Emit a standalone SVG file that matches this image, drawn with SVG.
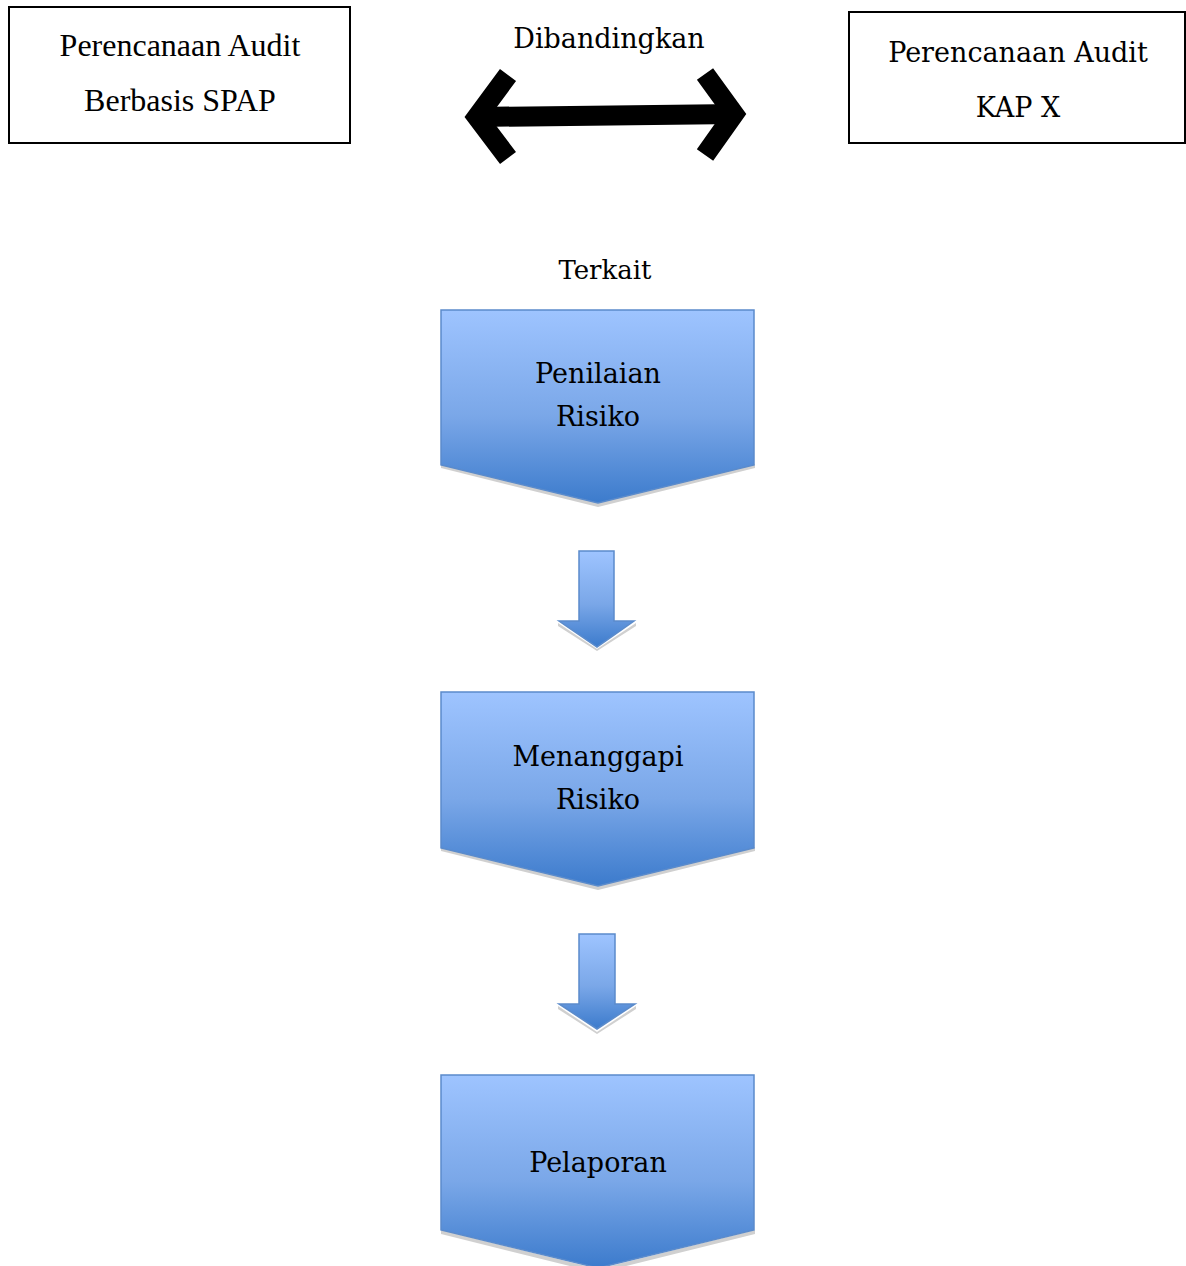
<svg xmlns="http://www.w3.org/2000/svg" width="1186" height="1266" viewBox="0 0 1186 1266">
<defs>
<linearGradient id="blue" x1="0" y1="0" x2="0" y2="1">
<stop offset="0" stop-color="#9EC4FF"/>
<stop offset="0.55" stop-color="#7AA7E8"/>
<stop offset="1" stop-color="#3C7BCC"/>
</linearGradient>
<style>
.box{fill:#fff;stroke:#000;stroke-width:2}
.times{font-family:"Liberation Serif",serif;font-size:32px;fill:#000;text-anchor:middle}
.camb{font-family:"DejaVu Serif",serif;font-size:27px;fill:#000;text-anchor:middle}
.chev{fill:url(#blue);stroke:#5B8BCB;stroke-width:1.5}
.shadow{fill:#D0D0D0}
</style>
</defs>
<g id="node-spap">
<rect class="box" x="9" y="7" width="341" height="136"/>
<text class="times" x="180" y="56">Perencanaan Audit</text>
<text class="times" x="180" y="111">Berbasis SPAP</text>
</g>
<g id="node-kap">
<rect class="box" x="849" y="12" width="336" height="131"/>
<text class="camb" x="1018" y="62">Perencanaan Audit</text>
<text class="camb" x="1018" y="117">KAP X</text>
</g>
<g id="connectors">
<text class="camb" x="609" y="48">Dibandingkan</text>
<g fill="none" stroke="#000" stroke-width="20" stroke-linejoin="miter" stroke-miterlimit="10">
<path d="M476 117 L737 114"/>
<path d="M508 75 L477 117 L508 158"/>
<path d="M705 74 L734 114 L705 155"/>
</g>
<text class="camb" x="605" y="279" style="font-size:26px">Terkait</text>
<g id="arrow1">
<path class="shadow" d="M558 623 L597 649 L636 623 L636 626 L597 651 L558 626 Z"/>
<path class="chev" d="M579 551 L614 551 L614 621 L634 621 L597 647 L559 621 L579 621 Z"/>
</g>
<g id="arrow2">
<path class="shadow" d="M558 1006 L597 1032 L636 1006 L636 1009 L597 1034 L558 1009 Z"/>
<path class="chev" d="M579 934 L615 934 L615 1004 L635 1004 L597 1029 L559 1004 L579 1004 Z"/>
</g>
</g>
<g id="node-penilaian">
<path class="shadow" d="M441 468 L598 507 L755 468 L755 464 L598 503 L441 464 Z"/>
<path class="chev" d="M441 310 L754 310 L754 465 L598 503 L441 465 Z"/>
<text class="camb" x="598" y="383">Penilaian</text>
<text class="camb" x="598" y="426">Risiko</text>
</g>
<g id="node-menanggapi">
<path class="shadow" d="M441 851 L598 890 L755 851 L755 847 L598 886 L441 847 Z"/>
<path class="chev" d="M441 692 L754 692 L754 848 L598 886 L441 848 Z"/>
<text class="camb" x="598" y="766">Menanggapi</text>
<text class="camb" x="598" y="809">Risiko</text>
</g>
<g id="node-pelaporan">
<path class="shadow" d="M441 1234 L598 1273 L755 1234 L755 1230 L598 1269 L441 1230 Z"/>
<path class="chev" d="M441 1075 L754 1075 L754 1230 L598 1268 L441 1230 Z"/>
<text class="camb" x="598" y="1172">Pelaporan</text>
</g>
</svg>
